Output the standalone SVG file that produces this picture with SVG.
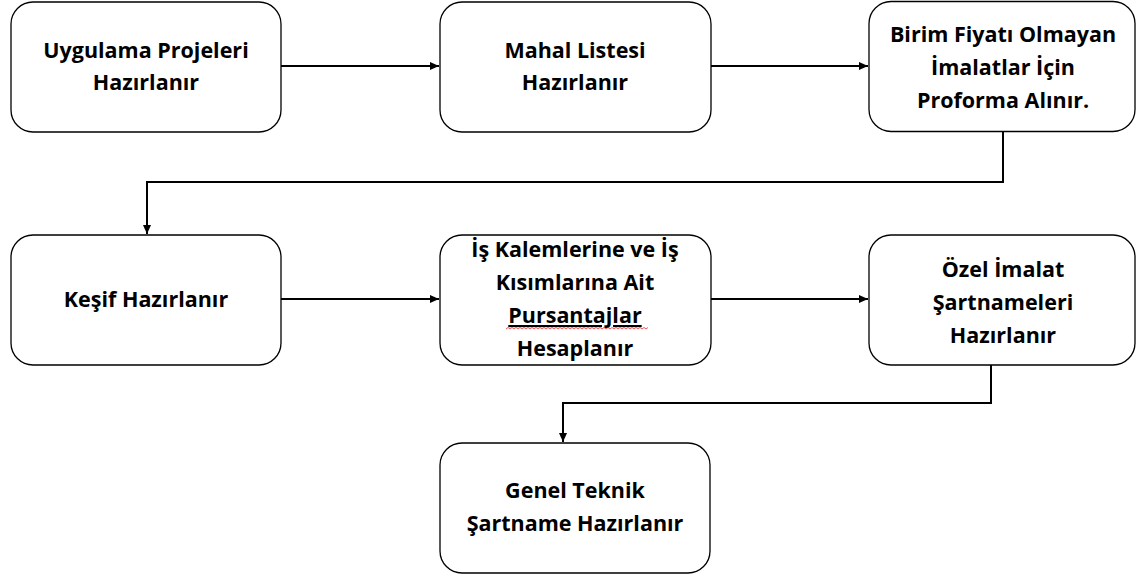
<svg xmlns="http://www.w3.org/2000/svg" width="1137" height="577" viewBox="0 0 1137 577">
<style>
.box{fill:#fff;stroke:#000;stroke-width:1.3}
.t{font-family:"Open Sans","Liberation Sans",sans-serif;font-weight:bold;font-size:21.5px;fill:#000;text-anchor:middle}
.c{fill:none;stroke:#000;stroke-width:2}
</style>
<defs>
<marker id="ah" markerWidth="10" markerHeight="10" refX="9" refY="5" orient="auto" markerUnits="userSpaceOnUse">
<path d="M0,1 L9,5 L0,9 Z" fill="#000"/>
</marker>
</defs>
<rect width="1137" height="577" fill="#fff"/>
<g id="connectors">
<path class="c" d="M281,66 H439" marker-end="url(#ah)"/>
<path class="c" d="M711,66 H868" marker-end="url(#ah)"/>
<path class="c" d="M1003,132 V182 H147 V234" marker-end="url(#ah)"/>
<path class="c" d="M281,299 H439" marker-end="url(#ah)"/>
<path class="c" d="M711,299 H868" marker-end="url(#ah)"/>
<path class="c" d="M991,365 V403 H563 V442" marker-end="url(#ah)"/>
</g>
<g id="n1">
<rect class="box" x="11" y="2" width="270" height="130" rx="22"/>
<text class="t" x="146" y="58">Uygulama Projeleri</text>
<text class="t" x="146" y="90">Hazırlanır</text>
</g>
<g id="n2">
<rect class="box" x="440" y="2" width="271" height="130" rx="22"/>
<text class="t" x="575" y="58">Mahal Listesi</text>
<text class="t" x="575" y="90">Hazırlanır</text>
</g>
<g id="n3">
<rect class="box" x="869" y="1.5" width="266" height="130" rx="22"/>
<text class="t" x="1003" y="42">Birim Fiyatı Olmayan</text>
<text class="t" x="1003" y="75">İmalatlar İçin</text>
<text class="t" x="1003" y="108">Proforma Alınır.</text>
</g>
<g id="n4">
<rect class="box" x="11" y="235" width="270" height="130" rx="22"/>
<text class="t" x="146" y="307">Keşif Hazırlanır</text>
</g>
<g id="n5">
<rect class="box" x="440" y="235" width="271" height="130" rx="22"/>
<text class="t" x="575" y="257">İş Kalemlerine ve İş</text>
<text class="t" x="575" y="290">Kısımlarına Ait</text>
<text class="t" x="575" y="323" text-decoration="underline">Pursantajlar</text>
<text class="t" x="575" y="356">Hesaplanır</text>
<path d="M506,329 l2,-1.5 l2,1.5 l2,-1.5 l2,1.5 l2,-1.5 l2,1.5 l2,-1.5 l2,1.5 l2,-1.5 l2,1.5 l2,-1.5 l2,1.5 l2,-1.5 l2,1.5 l2,-1.5 l2,1.5 l2,-1.5 l2,1.5 l2,-1.5 l2,1.5 l2,-1.5 l2,1.5 l2,-1.5 l2,1.5 l2,-1.5 l2,1.5 l2,-1.5 l2,1.5 l2,-1.5 l2,1.5 l2,-1.5 l2,1.5 l2,-1.5 l2,1.5 l2,-1.5 l2,1.5 l2,-1.5 l2,1.5 l2,-1.5 l2,1.5 l2,-1.5 l2,1.5 l2,-1.5 l2,1.5 l2,-1.5 l2,1.5 l2,-1.5 l2,1.5 l2,-1.5 l2,1.5 l2,-1.5 l2,1.5 l2,-1.5 l2,1.5 l2,-1.5 l2,1.5 l2,-1.5 l2,1.5 l2,-1.5 l2,1.5 l2,-1.5 l2,1.5 l2,-1.5 l2,1.5 l2,-1.5 l2,1.5 l2,-1.5 l2,1.5 l2,-1.5 l2,1.5 l2,-1.5" fill="none" stroke="#e03030" stroke-width="0.8"/>
</g>
<g id="n6">
<rect class="box" x="869" y="235" width="266" height="130" rx="22"/>
<text class="t" x="1003" y="277">Özel İmalat</text>
<text class="t" x="1003" y="310">Şartnameleri</text>
<text class="t" x="1003" y="343">Hazırlanır</text>
</g>
<g id="n7">
<rect class="box" x="440" y="443" width="270" height="130" rx="22"/>
<text class="t" x="575" y="498">Genel Teknik</text>
<text class="t" x="575" y="531">Şartname Hazırlanır</text>
</g>
</svg>
